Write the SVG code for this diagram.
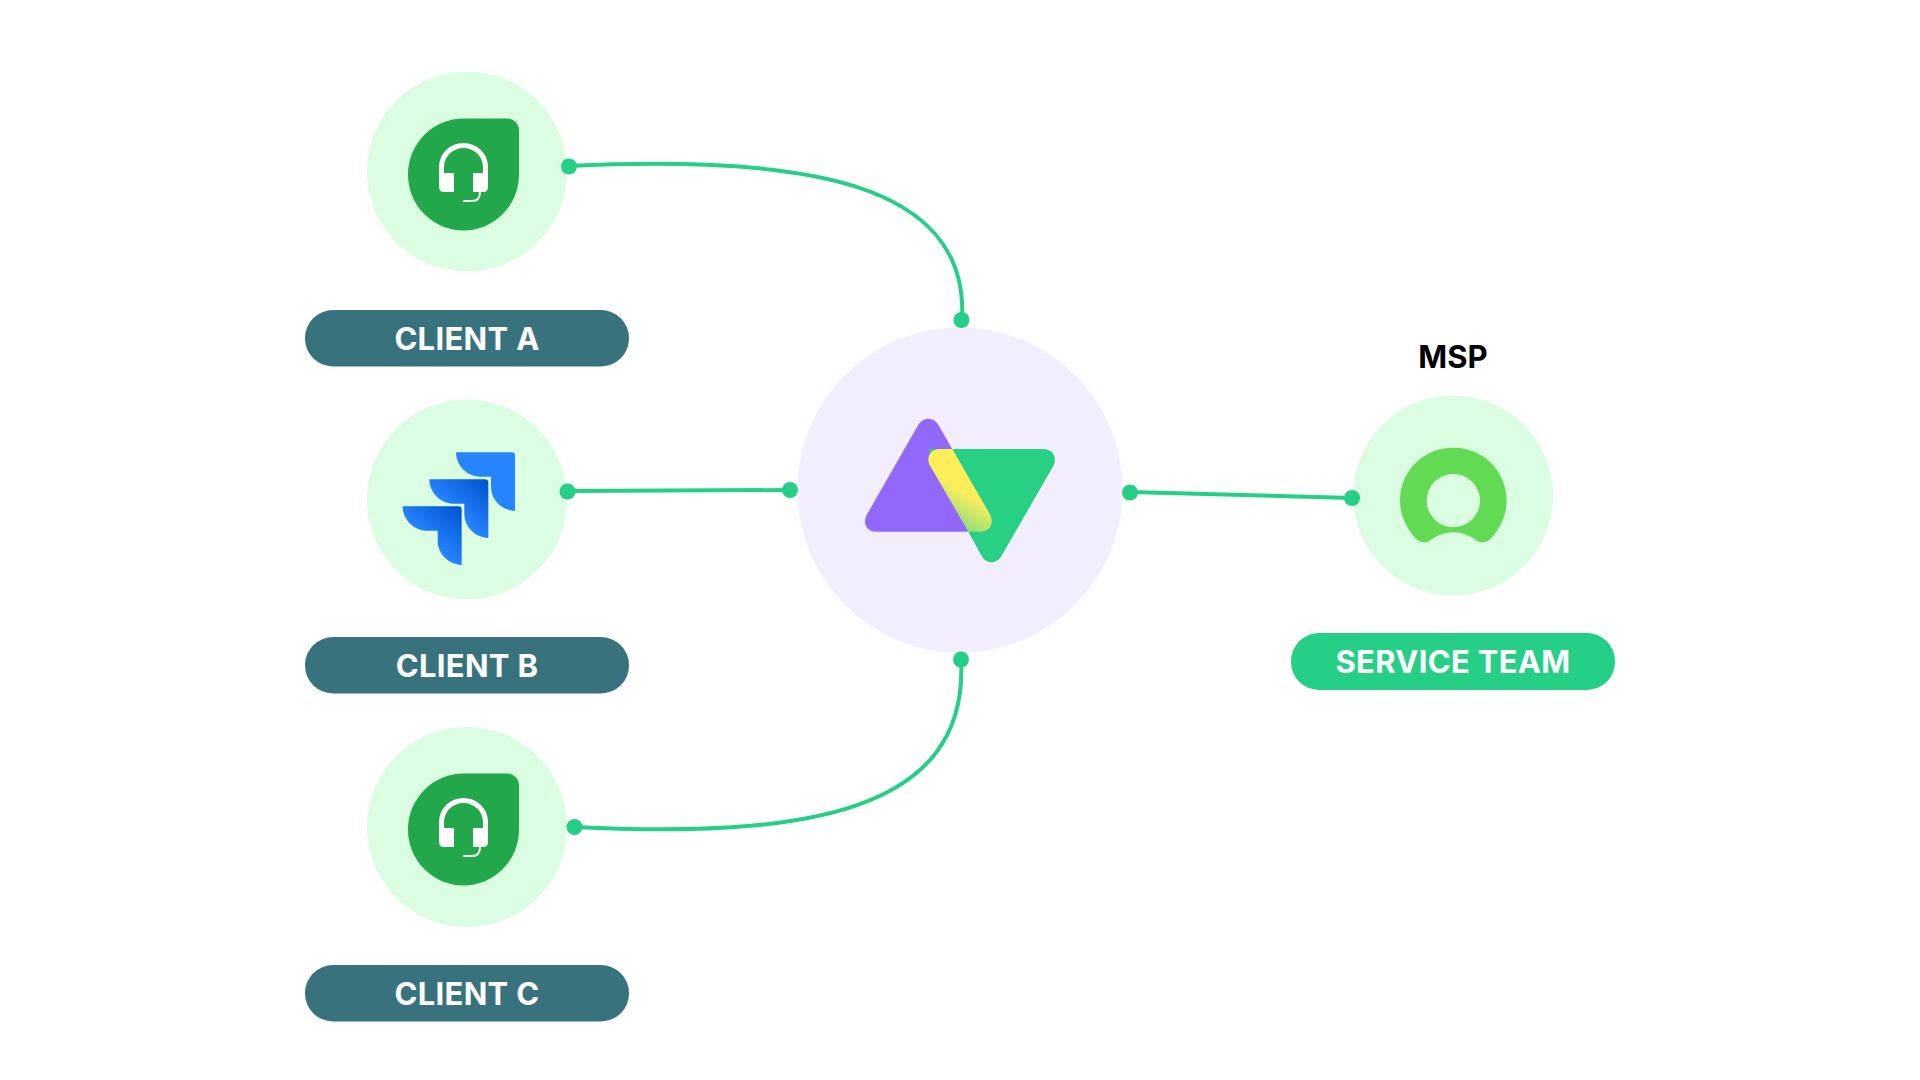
<svg xmlns="http://www.w3.org/2000/svg" width="1920" height="1080" viewBox="0 0 1920 1080">
<style>
.halo{fill:#dbfde1}
.pill{fill:#38737d}
.pill2{fill:#25cf85}
.lbl{font-family:Inter,"Liberation Sans",sans-serif;font-weight:700;font-size:31px;fill:#fff;text-anchor:middle;letter-spacing:.3px}
.msp{font-family:Inter,"Liberation Sans",sans-serif;font-weight:700;font-size:31px;fill:#000;text-anchor:middle}
.line{fill:none;stroke:#25cf85;stroke-width:4}
.dot{fill:#25cf85}
</style>
<defs>
<linearGradient id="jg" x1="1" y1="0" x2="0.45" y2="0.6">
<stop offset="0" stop-color="#0052cc"/><stop offset="1" stop-color="#2684ff"/>
</linearGradient>
<linearGradient id="yg" gradientUnits="userSpaceOnUse" x1="355" y1="395" x2="405" y2="310">
<stop offset="0" stop-color="#8fdd7a"/><stop offset="1" stop-color="#ffee5c"/>
</linearGradient>
<g id="fresh">
<path fill="#22a84a" d="M408,174.500A55.500,56 0 0 1 463.500,118.500H507A12,12 0 0 1 519,130.500V174.500A55.500,56 0 0 1 408,174.500Z"/>
<path fill="#fff" d="M439,167A24.500,24 0 0 1 488,167V187Q488,192 483,192H473V173H483V167A19.500,19 0 0 0 444,167V173H454V192H444Q439,192 439,187Z"/>
<path fill="none" stroke="#fff" stroke-width="2" d="M480,192Q480,201 472,201H463"/>
</g>
<path id="jp" d="M228,67H395Q405,67 405,77V243C365,240 333,210 333,170V140H300C260,140 228,105 228,67Z"/>
</defs>

<g id="client-a">
<circle class="halo" cx="467" cy="171.500" r="100"/>
<use href="#fresh"/>
<rect class="pill" x="305" y="310" width="324" height="56.500" rx="28"/>
<text class="lbl" x="467" y="349.500">CLIENT A</text>
</g>

<g id="client-b">
<circle class="halo" cx="467" cy="499.500" r="100"/>
<g transform="translate(380,430) scale(.33333)">
<use href="#jp" fill="#2684ff"/>
<use href="#jp" x="-80" y="81" fill="url(#jg)"/>
<use href="#jp" x="-160" y="162" fill="url(#jg)"/>
</g>
<rect class="pill" x="305" y="637" width="324" height="56.500" rx="28"/>
<text class="lbl" x="467" y="676.500">CLIENT B</text>
</g>

<g id="client-c">
<circle class="halo" cx="467" cy="827" r="100"/>
<use href="#fresh" y="655"/>
<rect class="pill" x="305" y="965" width="324" height="56.500" rx="28"/>
<text class="lbl" x="467" y="1004.500">CLIENT C</text>
</g>

<g id="hub">
<circle cx="960" cy="490" r="162.500" fill="#f2eefe"/>
<g transform="translate(850,400) scale(.33333)">
<path fill="#9268fb" d="M205,74C218,50 252,50 265,74L355,232V395H78C50,395 37,370 50,345Z"/>
<path fill="#28d084" d="M307,147H580C610,147 622,175 610,198L453,470C438,492 410,492 396,470L355,395L235,147Z"/>
<path fill="url(#yg)" d="M270,147H307L418,340C435,370 420,395 390,395H355L242,200C225,175 240,147 270,147Z"/>
</g>
</g>

<g id="msp">
<text class="msp" x="1453" y="368">MSP</text>
<circle class="halo" cx="1453" cy="495.500" r="100"/>
<g transform="translate(1380,430) scale(.33333)">
<path fill="#63da53" fill-rule="evenodd" d="M220,53C308,53 380,122 380,212C380,255 360,295 333,325C320,340 300,340 288,330C270,317 245,307 220,307C195,307 170,317 152,330C140,340 120,340 107,325C80,295 60,255 60,212C60,122 132,53 220,53ZM220,132A80,80 0 0 0 220,292A80,80 0 0 0 220,132Z"/>
</g>
<rect class="pill2" x="1291" y="633" width="324" height="57" rx="28"/>
<text class="lbl" x="1453" y="673">SERVICE TEAM</text>
</g>

<g id="connectors">
<path class="line" d="M569,166C800,155 970,180 962,320"/>
<path class="line" d="M567,491L790,490"/>
<path class="line" d="M574,827C800,838 970,815 961,659"/>
<path class="line" d="M1130,492L1352,498"/>
<circle class="dot" cx="569" cy="166.500" r="8"/>
<circle class="dot" cx="961.500" cy="320" r="8"/>
<circle class="dot" cx="567.500" cy="491.500" r="8"/>
<circle class="dot" cx="790" cy="490" r="8"/>
<circle class="dot" cx="961" cy="659.500" r="8"/>
<circle class="dot" cx="574.500" cy="827" r="8"/>
<circle class="dot" cx="1130" cy="492.500" r="8"/>
<circle class="dot" cx="1352" cy="498" r="8"/>
</g>
</svg>
